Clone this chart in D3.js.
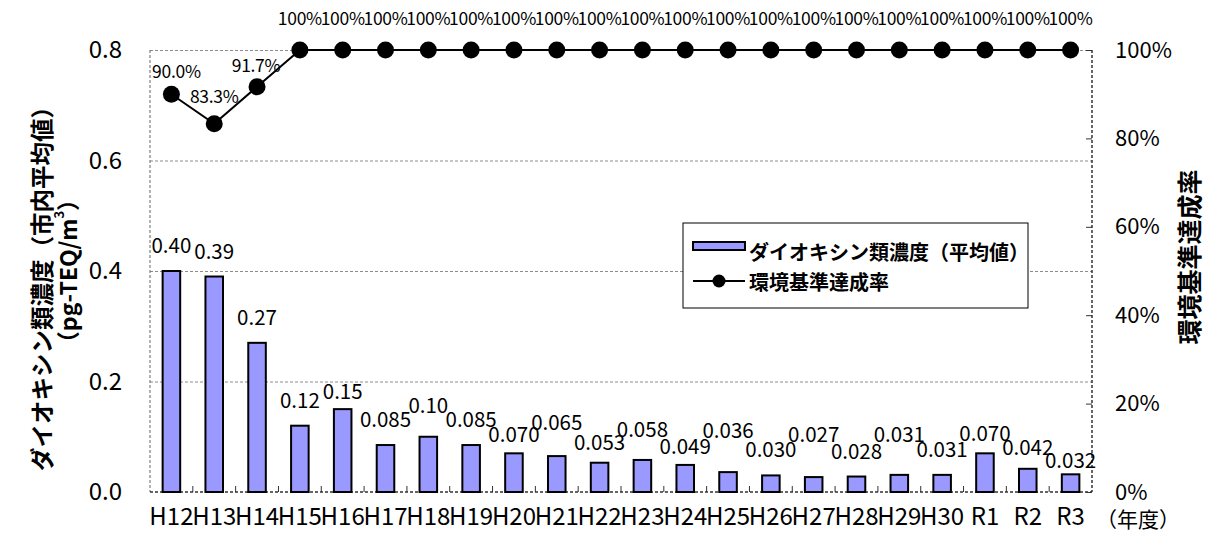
<!DOCTYPE html>
<html>
<head>
<meta charset="utf-8">
<script src="https://cdn.jsdelivr.net/npm/d3@7"></script>
<style>
  body { margin: 0; background: #fff; }
  text { font-family: "Noto Sans CJK JP", sans-serif; fill: #000; }
</style>
</head>
<body>
<svg width="1206" height="533"></svg>
<script>
// 年度ごとのダイオキシン類濃度と環境基準達成率
const years = ['H12', 'H13', 'H14', 'H15', 'H16', 'H17', 'H18', 'H19', 'H20', 'H21', 'H22',
  'H23', 'H24', 'H25', 'H26', 'H27', 'H28', 'H29', 'H30', 'R1', 'R2', 'R3'];
const concentration = [0.40, 0.39, 0.27, 0.12, 0.15, 0.085, 0.10, 0.085, 0.070, 0.065, 0.053,
  0.058, 0.049, 0.036, 0.030, 0.027, 0.028, 0.031, 0.031, 0.070, 0.042, 0.032];
const concLabels = ['0.40', '0.39', '0.27', '0.12', '0.15', '0.085', '0.10', '0.085', '0.070', '0.065', '0.053',
  '0.058', '0.049', '0.036', '0.030', '0.027', '0.028', '0.031', '0.031', '0.070', '0.042', '0.032'];
const achievement = [90.0, 83.3, 91.7, 100, 100, 100, 100, 100, 100, 100, 100,
  100, 100, 100, 100, 100, 100, 100, 100, 100, 100, 100];
const rateLabels = ['90.0%', '83.3%', '91.7%', '100%', '100%', '100%', '100%', '100%', '100%', '100%', '100%',
  '100%', '100%', '100%', '100%', '100%', '100%', '100%', '100%', '100%', '100%', '100%'];
const leftTicks = [0, 0.2, 0.4, 0.6, 0.8];
const rightTicks = [0, 20, 40, 60, 80, 100];

// ラベルの手動配置（棒の上端からの高さ、px）
const barLabelLift = { H16: 10, H18: 24, H20: 11, H21: 26, H22: 13, H23: 23, H24: 11,
  H25: 34, H27: 35, H29: 33, R1: 12, R2: 14, R3: 6 };
const rateLabelShift = { H12: [5, 16], H13: [0, 21], H14: [-1, 15] };

const svg = d3.select('svg');
const plotLeft = 150, plotRight = 1092, plotTop = 50, plotBottom = 492;
const plotWidth = plotRight - plotLeft;

const x = d3.scaleBand().domain(years).range([plotLeft, plotRight]);
const y = d3.scaleLinear().domain([0, 0.8]).range([plotBottom, plotTop]);
const y2 = d3.scaleLinear().domain([0, 100]).range([plotBottom, plotTop]);
const bw = x.bandwidth();
const barW = bw * 0.41;

// グリッド線
svg.append('g')
  .attr('transform', `translate(${plotLeft},0)`)
  .call(d3.axisLeft(y).tickValues(leftTicks.slice(1)).tickSize(-plotWidth).tickFormat(''))
  .call(g => g.select('.domain').remove())
  .selectAll('line')
  .attr('stroke', '#8c8c8c')
  .attr('stroke-dasharray', '3,2');

// 枠
svg.append('line')
  .attr('x1', plotLeft).attr('x2', plotLeft).attr('y1', plotTop).attr('y2', plotBottom)
  .attr('stroke', '#666').attr('stroke-dasharray', '3,2');
svg.append('line')
  .attr('x1', plotRight).attr('x2', plotRight).attr('y1', plotTop).attr('y2', plotBottom)
  .attr('stroke', '#333').attr('stroke-width', 1.5).attr('stroke-dasharray', '3,2');
svg.append('line')
  .attr('x1', plotLeft).attr('x2', plotRight).attr('y1', plotBottom).attr('y2', plotBottom)
  .attr('stroke', '#333').attr('stroke-width', 1.5).attr('stroke-dasharray', '3,2');

// 区切り目盛
svg.append('g')
  .selectAll('line')
  .data(years.slice(1))
  .enter()
  .append('line')
  .attr('x1', d => x(d)).attr('x2', d => x(d))
  .attr('y1', plotBottom).attr('y2', plotBottom - 6)
  .attr('stroke', '#333');

// 左軸
svg.append('g')
  .attr('transform', `translate(${plotLeft},0)`)
  .call(d3.axisLeft(y).tickValues(leftTicks).tickFormat(d3.format('.1f')).tickSize(0).tickPadding(28))
  .call(g => g.select('.domain').remove())
  .selectAll('text')
  .style('font-family', '"Noto Sans CJK JP", sans-serif')
  .style('font-size', '24px');

// 右軸
svg.append('g')
  .attr('transform', `translate(${plotRight},0)`)
  .call(d3.axisRight(y2).tickValues(rightTicks).tickFormat(d => d + '%').tickSize(-6).tickPadding(23))
  .call(g => g.select('.domain').remove())
  .call(g => g.selectAll('line').attr('stroke', '#333'))
  .selectAll('text')
  .style('font-family', '"Noto Sans CJK JP", sans-serif')
  .style('font-size', '22px');

// 横軸
svg.append('g')
  .attr('transform', `translate(0,${plotBottom})`)
  .call(d3.axisBottom(x).tickSize(0).tickPadding(16))
  .call(g => g.select('.domain').remove())
  .selectAll('text')
  .style('font-family', '"Noto Sans CJK JP", sans-serif')
  .style('font-size', '24px');

svg.append('text')
  .attr('x', plotRight + 4)
  .attr('y', 527)
  .style('font-size', '21px')
  .text('（年度）');

// 棒
svg.append('g')
  .selectAll('rect')
  .data(concentration)
  .enter()
  .append('rect')
  .attr('x', (d, i) => x(years[i]) + (bw - barW) / 2)
  .attr('y', d => y(d))
  .attr('width', barW)
  .attr('height', d => plotBottom - y(d))
  .attr('fill', '#9999ff')
  .attr('stroke', '#000')
  .attr('stroke-width', 2);

svg.append('g')
  .selectAll('text')
  .data(concentration)
  .enter()
  .append('text')
  .attr('x', (d, i) => x(years[i]) + bw / 2)
  .attr('y', (d, i) => y(d) - (barLabelLift[years[i]] || 18))
  .attr('text-anchor', 'middle')
  .style('font-size', '20.5px')
  .text((d, i) => concLabels[i]);

// 折れ線
const line = d3.line()
  .x((d, i) => x(years[i]) + bw / 2)
  .y(d => y2(d));

svg.append('path')
  .datum(achievement)
  .attr('d', line)
  .attr('fill', 'none')
  .attr('stroke', '#000')
  .attr('stroke-width', 2);

svg.append('g')
  .selectAll('circle')
  .data(achievement)
  .enter()
  .append('circle')
  .attr('cx', (d, i) => x(years[i]) + bw / 2)
  .attr('cy', d => y2(d))
  .attr('r', 8.5)
  .attr('fill', '#000');

svg.append('g')
  .selectAll('text')
  .data(achievement)
  .enter()
  .append('text')
  .attr('x', (d, i) => x(years[i]) + bw / 2 + (rateLabelShift[years[i]] ? rateLabelShift[years[i]][0] : 0))
  .attr('y', (d, i) => y2(d) - (rateLabelShift[years[i]] ? rateLabelShift[years[i]][1] : 25))
  .attr('text-anchor', 'middle')
  .style('font-size', '17.5px')
  .style('letter-spacing', '-0.3px')
  .text((d, i) => rateLabels[i]);

// 軸タイトル
svg.append('text')
  .attr('transform', 'translate(41,283) rotate(-90)')
  .attr('text-anchor', 'middle')
  .attr('dominant-baseline', 'central')
  .style('font-size', '23.5px')
  .style('font-weight', 'bold')
  .text('ダイオキシン類濃度（市内平均値）');

const unit = svg.append('text')
  .attr('transform', 'translate(67,271) rotate(-90)')
  .attr('text-anchor', 'middle')
  .attr('dominant-baseline', 'central')
  .style('font-size', '23px')
  .style('font-weight', 'bold');
unit.append('tspan').text('（pg-TEQ/m');
unit.append('tspan').attr('dy', -9).style('font-size', '13px').text('3');
unit.append('tspan').attr('dy', 9).text('）');

svg.append('text')
  .attr('transform', 'translate(1188,257) rotate(-90)')
  .attr('text-anchor', 'middle')
  .attr('dominant-baseline', 'central')
  .style('font-size', '25px')
  .style('font-weight', 'bold')
  .text('環境基準達成率');

// 凡例
const legend = svg.append('g');
legend.append('rect')
  .attr('x', 683).attr('y', 223).attr('width', 345).attr('height', 85)
  .attr('fill', '#fff').attr('stroke', '#000');
legend.append('rect')
  .attr('x', 693).attr('y', 242).attr('width', 52).attr('height', 8)
  .attr('fill', '#9999ff').attr('stroke', '#000').attr('stroke-width', 2);
legend.append('text')
  .attr('x', 749).attr('y', 251)
  .attr('dominant-baseline', 'central')
  .style('font-size', '20px').style('font-weight', 'bold')
  .text('ダイオキシン類濃度（平均値）');
legend.append('line')
  .attr('x1', 693).attr('x2', 745).attr('y1', 281).attr('y2', 281)
  .attr('stroke', '#000').attr('stroke-width', 2);
legend.append('circle')
  .attr('cx', 719).attr('cy', 281).attr('r', 6.5).attr('fill', '#000');
legend.append('text')
  .attr('x', 749).attr('y', 281)
  .attr('dominant-baseline', 'central')
  .style('font-size', '20px').style('font-weight', 'bold')
  .text('環境基準達成率');
</script>
</body>
</html>
